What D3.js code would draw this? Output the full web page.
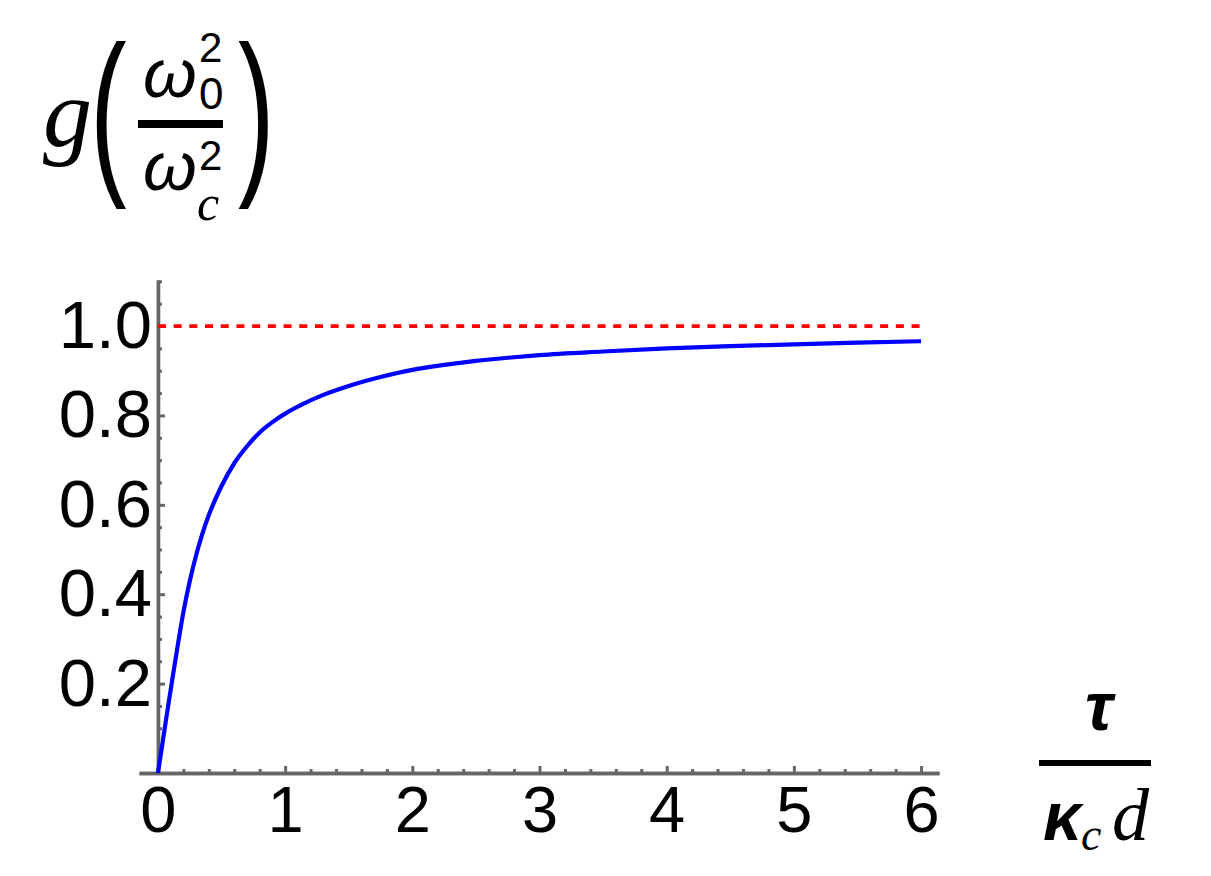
<!DOCTYPE html>
<html>
<head>
<meta charset="utf-8">
<script src="https://cdn.jsdelivr.net/npm/d3@7"></script>
<style>
  html, body { margin: 0; padding: 0; background: #fff; }
  svg { display: block; }
</style>
</head>
<body>
<svg id="chart" width="1211" height="876"></svg>
<script>
// ---- data ----
const curveX = [0, 0.04, 0.08, 0.12, 0.16, 0.2, 0.25, 0.3, 0.35, 0.4, 0.5, 0.6, 0.7, 0.8, 0.9, 1.0, 1.15, 1.3, 1.5, 1.75, 2.0, 2.25, 2.5, 2.75, 3.0, 3.5, 4.0, 4.5, 5.0, 5.5, 6.0];
const curveY = [0, 0.075, 0.15, 0.222, 0.293, 0.36, 0.429, 0.487, 0.536, 0.577, 0.642, 0.693, 0.731, 0.762, 0.785, 0.804, 0.827, 0.846, 0.866, 0.886, 0.902, 0.913, 0.922, 0.929, 0.935, 0.943, 0.950, 0.955, 0.959, 0.963, 0.966];
const refLineX = [0, 6];
const refLineY = [1.0, 1.0];
const xTicks = [0, 1, 2, 3, 4, 5, 6];
const yTicks = [0.2, 0.4, 0.6, 0.8, 1.0];
const xMinorTicks = d3.range(0, 6.01, 0.2).map(v => +v.toFixed(1)).filter(v => !xTicks.includes(v));
const yMinorTicks = d3.range(0.05, 1.101, 0.05).map(v => +v.toFixed(2)).filter(v => !yTicks.includes(v));
const xExtent = [-0.149, 6.141];
const yExtent = [0, 1.103];

// ---- scales ----
const svg = d3.select("#chart");
const x = d3.scaleLinear().domain(xExtent).range([139, 939]);
const y = d3.scaleLinear().domain(yExtent).range([773, 280]);

const axisColor = "#666666";
const tickFont = "'Liberation Sans', Arial, Helvetica, sans-serif";

// ---- axes ----
function styleAxis(size) {
  return g => {
    g.select(".domain").attr("stroke", axisColor).attr("stroke-width", 3.4);
    g.selectAll(".tick line").attr("stroke", axisColor).attr("stroke-width", 3);
    g.selectAll(".tick text").attr("fill", "#000").attr("font-family", tickFont).attr("font-size", size);
  };
}

// minor ticks
svg.append("g").attr("transform", `translate(0,${y(0)})`)
  .call(d3.axisBottom(x).tickValues(xMinorTicks).tickSize(-4).tickSizeOuter(0).tickFormat(""))
  .call(styleAxis(64));
svg.append("g").attr("transform", `translate(${x(0)},0)`)
  .call(d3.axisLeft(y).tickValues(yMinorTicks).tickSize(-4).tickSizeOuter(0).tickFormat(""))
  .call(styleAxis(64));

// major ticks
svg.append("g").attr("transform", `translate(0,${y(0)})`)
  .call(d3.axisBottom(x).tickValues(xTicks).tickSize(-7).tickSizeOuter(0).tickPadding(13).tickFormat(d3.format("d")))
  .call(styleAxis(65));
svg.append("g").attr("transform", `translate(${x(0)},0)`)
  .call(d3.axisLeft(y).tickValues(yTicks).tickSize(-7).tickSizeOuter(0).tickPadding(6).tickFormat(d3.format(".1f")))
  .call(styleAxis(67));

// ---- reference line ----
const refData = refLineX.map((v, i) => [v, refLineY[i]]);
svg.append("path")
  .datum(refData)
  .attr("fill", "none")
  .attr("stroke", "#ff0000")
  .attr("stroke-width", 3.8)
  .attr("stroke-dasharray", "8,7.7")
  .attr("d", d3.line().x(d => x(d[0])).y(d => y(d[1])));

// ---- curve ----
const curveData = curveX.map((v, i) => [v, curveY[i]]);
svg.append("path")
  .datum(curveData)
  .attr("fill", "none")
  .attr("stroke", "#0000ff")
  .attr("stroke-width", 4.2)
  .attr("stroke-linejoin", "round")
  .attr("d", d3.line().curve(d3.curveMonotoneX).x(d => x(d[0])).y(d => y(d[1])));

// ---- y-axis label: g(ω0²/ωc²) ----
const serif = "'Liberation Serif', 'Times New Roman', serif";
const sans = "'Liberation Sans', Arial, sans-serif";
const lab = svg.append("g");
function txt(s, px, py, size, fam, style, anchor, weight) {
  return lab.append("text").attr("x", px).attr("y", py)
    .attr("font-size", size).attr("font-family", fam)
    .attr("font-style", style || "normal")
    .attr("font-weight", weight || "normal")
    .attr("text-anchor", anchor || "start")
    .attr("fill", "#000").text(s);
}
txt("g", 43, 146, 98, serif, "italic");
lab.append("text").attr("transform", "translate(90,172) scale(1,1.636)")
  .attr("font-size", 110).attr("font-family", sans).attr("fill", "#000").text("(");
lab.append("text").attr("transform", "translate(238,172) scale(1,1.636)")
  .attr("font-size", 110).attr("font-family", sans).attr("fill", "#000").text(")");
txt("ω", 143, 97, 69, sans, "italic");
txt("2", 199, 62, 42, sans);
txt("0", 199, 109, 44, sans);
lab.append("line").attr("x1", 138).attr("x2", 223).attr("y1", 124).attr("y2", 124)
  .attr("stroke", "#000").attr("stroke-width", 8);
txt("ω", 143, 190, 69, sans, "italic");
txt("2", 199, 170, 42, sans);
txt("c", 197, 220, 50, serif, "italic");

// ---- x-axis label: τ/(κc d) ----
txt("τ", 1099, 730, 68, sans, "italic", "middle", "bold");
lab.append("line").attr("x1", 1039).attr("x2", 1151).attr("y1", 763).attr("y2", 763)
  .attr("stroke", "#000").attr("stroke-width", 6);
txt("κ", 1043, 840, 68, sans, "italic", "start", "bold");
txt("c", 1081, 850, 46, serif, "italic");
txt("d", 1112, 840, 74, serif, "italic");
</script>
</body>
</html>
